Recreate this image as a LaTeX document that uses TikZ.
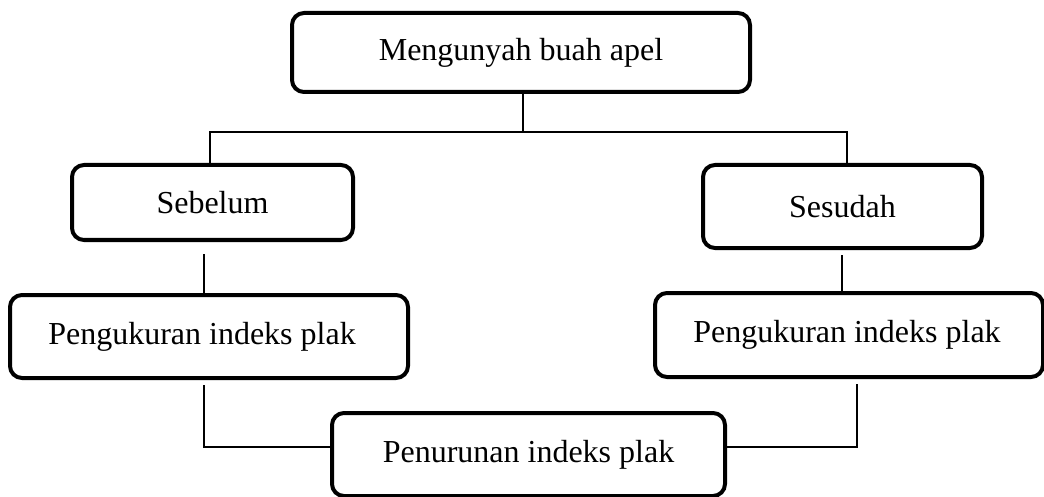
\documentclass[tikz,border=0pt]{standalone}
\usepackage{fontspec}
\setmainfont{Liberation Serif}
\begin{document}
\begin{tikzpicture}[x=1pt,y=-1pt,
  box/.style={draw, line width=4pt, rounded corners=12pt, inner sep=0pt,
    font=\fontsize{32}{38}\selectfont},
  conn/.style={line width=1.4pt}]
\useasboundingbox (0,0) rectangle (1044,497);
\node[box, minimum width=458pt, minimum height=79pt] (top) at (521,52.5) {Mengunyah buah apel};
\node[box, minimum width=281pt, minimum height=75pt] (seb) at (212.5,202.5) {Sebelum};
\node[box, minimum width=279pt, minimum height=83pt] (ses) at (842.5,206.5) {Sesudah};
\node[box, minimum width=398pt, minimum height=83pt] (pl) at (209,336.5) {\hspace*{-14pt}Pengukuran indeks plak};
\node[box, minimum width=388pt, minimum height=84pt] (pr) at (849,335) {\hspace*{-4pt}Pengukuran indeks plak};
\node[box, minimum width=393pt, minimum height=83pt] (res) at (528.5,454.5) {\raisebox{4pt}{Penurunan indeks plak}};
\coordinate (j) at (523,132);
\draw[conn] ([xshift=2pt]top.south) -- (j);
\draw[conn] ([xshift=-2.5pt]seb.north) |- (j) -| ([xshift=4.5pt]ses.north);
\draw[conn] ([xshift=-5pt]pl.north) -- ([xshift=-5pt,yshift=-12pt]pl.north |- seb.south);
\draw[conn] ([xshift=-7pt]pr.north) -- ([xshift=-7pt,yshift=-5pt]pr.north |- ses.south);
\draw[conn] ([xshift=-5pt,yshift=-5pt]pl.south) |- ([yshift=7.5pt]res.west);
\draw[conn] ([xshift=8pt,yshift=-5pt]pr.south) |- ([yshift=7.5pt]res.east);
\end{tikzpicture}
\end{document}
